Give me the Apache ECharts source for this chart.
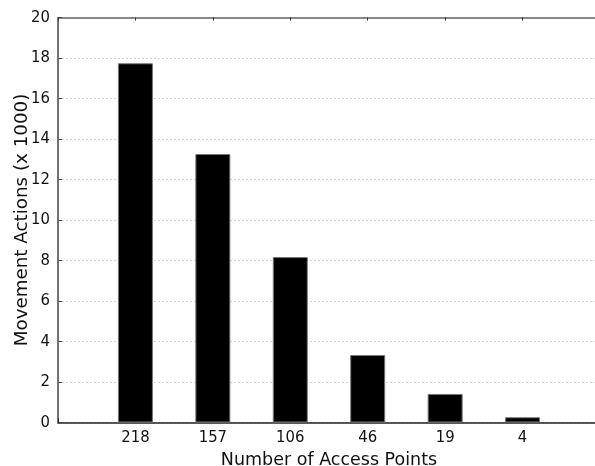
<!DOCTYPE html>
<html>
<head>
<meta charset="utf-8">
<script src="https://cdn.jsdelivr.net/npm/echarts@6/dist/echarts.min.js"></script>
<style>html,body{margin:0;padding:0;background:#fff;}#c{width:595px;height:466px;}</style>
</head>
<body>
<div id="c"></div>
<script>
const categories = ['', '218', '157', '106', '46', '19', '4', ''];
const movementActions = [null, 17.74, 13.26, 8.17, 3.33, 1.41, 0.26, null];
const yMin = 0, yMax = 20, yStep = 2;

const FONT = 'DejaVu Sans Condensed';
const TFONT = 'DejaVu Sans';
const chart = echarts.init(document.getElementById('c'), null, {renderer: 'canvas'});
chart.setOption({
  animation: false,
  backgroundColor: '#fff',
  grid: {left: 58, top: 17.5, width: 542, height: 405, containLabel: false, outerBoundsMode: 'none'},
  xAxis: [{
    type: 'category', data: categories, boundaryGap: false, position: 'bottom',
    axisLine: {lineStyle: {color: '#222', width: 1.5}},
    axisTick: {inside: true, length: 4, lineStyle: {color: '#222'}},
    axisLabel: {color: '#111', fontFamily: FONT, fontSize: 16.5, margin: 7},
    splitLine: {show: false},
    name: 'Number of Access Points', nameLocation: 'middle', nameGap: 29,
    nameMoveOverlap: false,
    nameTextStyle: {color: '#111', fontFamily: TFONT, fontSize: 17.5}
  }, {
    type: 'category', data: categories, boundaryGap: false, position: 'top',
    axisLine: {lineStyle: {color: '#888', width: 2}},
    axisTick: {inside: true, length: 3, lineStyle: {color: '#333'}},
    axisLabel: {show: false}, splitLine: {show: false}
  }],
  yAxis: {
    type: 'value', min: yMin, max: yMax, interval: yStep,
    axisLine: {show: true, lineStyle: {color: '#444', width: 1.5}},
    axisTick: {show: true, inside: true, length: 4, lineStyle: {color: '#444'}},
    axisLabel: {color: '#111', fontFamily: FONT, fontSize: 16.5, margin: 8},
    splitLine: {show: true, lineStyle: {color: '#d4d4d4', type: [2, 2], width: 1}},
    name: 'Movement Actions (x 1000)', nameLocation: 'middle', nameGap: 27,
    nameMoveOverlap: false,
    nameTextStyle: {color: '#111', fontFamily: TFONT, fontSize: 18.3}
  },
  series: [{
    type: 'bar', data: movementActions, barWidth: 35, xAxisIndex: 0,
    itemStyle: {color: '#000', borderColor: '#777', borderWidth: 1}
  }]
});
</script>
</body>
</html>
